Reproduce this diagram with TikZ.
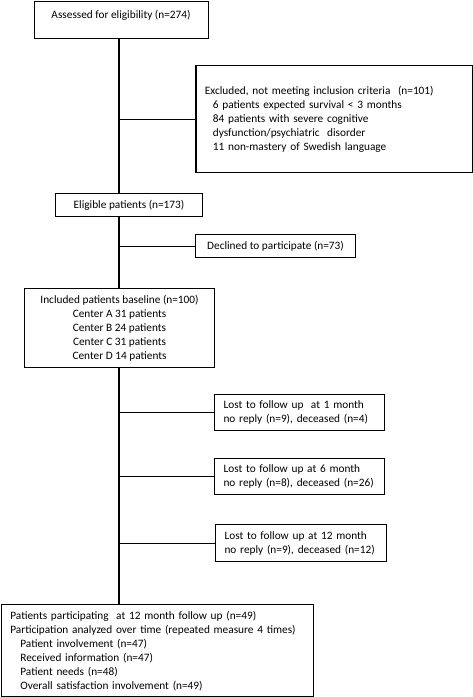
\documentclass[tikz,border=0pt]{standalone}
\usepackage{fontspec}
\setmainfont{Carlito}
\begin{document}
\begin{tikzpicture}[x=1pt,y=-1pt,
  box/.style={draw, line width=1.1pt, inner sep=0pt, font=\fontsize{11.3}{14}\selectfont},
  lbox/.style={box, align=left},
  conn/.style={line width=1.1pt}]
\useasboundingbox (0,0) rectangle (473,697);
\coordinate (t) at (119,0);
\node[box, minimum width=174pt, text height=17pt, text depth=20pt, anchor=north west] (assess) at (33.5,0.6) {Assessed for eligibility (n=274)};
\node[lbox, minimum width=277pt, minimum height=107pt, text width=259pt, anchor=north west] (excl) at (195.4,65)
 {Excluded, not meeting inclusion criteria~ (n=101)\\
 \hspace*{8pt}6 patients expected survival < 3 months\\
 \hspace*{8pt}84 patients with severe cognitive\\
 \hspace*{8pt}dysfunction/psychiatric~ disorder\\
 \hspace*{8pt}11 non-mastery of Swedish language};
\node[box, minimum width=147pt, minimum height=23pt, anchor=north west] (elig) at (55,193) {Eligible patients (n=173)};
\node[box, minimum width=160pt, minimum height=23pt, anchor=north west] (decl) at (195,234) {Declined to participate (n=73)};
\node[box, align=center, minimum width=190pt, minimum height=79pt, anchor=north west] (incl) at (24,288)
 {Included patients baseline (n=100)\\Center A 31 patients\\Center B 24 patients\\Center C 31 patients\\Center D 14 patients};
\node[lbox, minimum width=170pt, minimum height=36pt, text width=152pt, anchor=north west] (lost1) at (214,394)
 {Lost to follow up~ at 1 month\\no reply (n=9), deceased (n=4)};
\node[lbox, minimum width=170pt, minimum height=36pt, text width=152pt, anchor=north west] (lost6) at (214,458)
 {Lost to follow up at 6 month\\no reply (n=8), deceased (n=26)};
\node[lbox, minimum width=171pt, minimum height=37pt, text width=153pt, anchor=north west] (lost12) at (215,524)
 {Lost to follow up at 12 month\\no reply (n=9), deceased (n=12)};
\node[lbox, minimum width=312.4pt, minimum height=92.4pt, text width=294pt, anchor=north west] (final) at (0.6,604)
 {Patients participating~ at 12 month follow up (n=49)\\
 Participation analyzed over time (repeated measure 4 times)\\
 \hspace*{10pt}Patient involvement (n=47)\\
 \hspace*{10pt}Received information (n=47)\\
 \hspace*{10pt}Patient needs (n=48)\\
 \hspace*{10pt}Overall satisfaction involvement (n=49)};
\draw[conn] (t |- assess.south) -- (t |- elig.north);
\draw[conn] (t |- elig.south) -- (t |- incl.north);
\draw[conn] (t |- incl.south) -- (t |- final.north);
\draw[conn] (t |- excl.west) -- (excl.west);
\draw[conn] (t |- decl.west) -- (decl.west);
\draw[conn] (t |- lost1.west) -- (lost1.west);
\draw[conn] (t |- lost6.west) -- (lost6.west);
\draw[conn] (t |- lost12.west) -- (lost12.west);
\end{tikzpicture}
\end{document}
